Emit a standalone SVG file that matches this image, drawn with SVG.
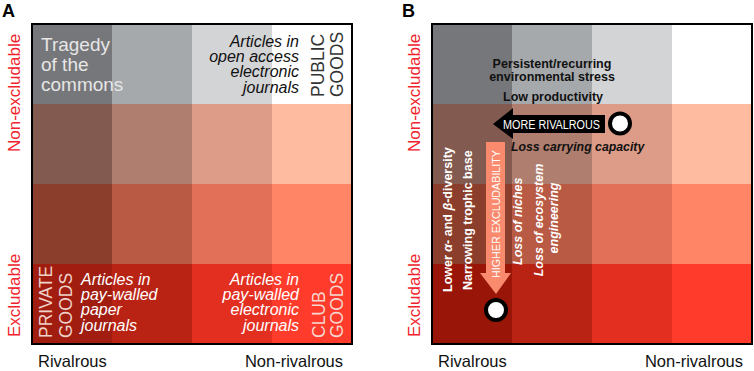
<svg xmlns="http://www.w3.org/2000/svg" width="754" height="371" viewBox="0 0 754 371">
<style>
text{font-family:"Liberation Sans",Arial,Helvetica,sans-serif}
.panel{font-weight:bold;font-size:18px;fill:#000}
.ylab{font-size:17px;fill:#f0222b}
.xlab{font-size:16.5px;fill:#111}
.big{font-size:19px;fill:#e6e6e6}
.art{font-size:16px;font-style:italic}
.goods{font-size:17.5px}
.bb{font-weight:bold;font-size:12.5px;fill:#111}
.wb{font-weight:bold;font-size:12.5px;fill:#fff}
.frame{fill:none;stroke:#000;stroke-width:2}
</style>
<defs>
<g id="grid">
<rect x="0" y="0" width="80" height="80" fill="#76777a"/>
<rect x="80" y="0" width="80" height="80" fill="#a6a9ac"/>
<rect x="160" y="0" width="80" height="80" fill="#d3d4d6"/>
<rect x="240" y="0" width="80" height="80" fill="#ffffff"/>
<rect x="0" y="80" width="80" height="80" fill="#835a50"/>
<rect x="80" y="80" width="80" height="80" fill="#b07e6e"/>
<rect x="160" y="80" width="80" height="80" fill="#dd9c87"/>
<rect x="240" y="80" width="80" height="80" fill="#ffbba0"/>
<rect x="0" y="160" width="80" height="80" fill="#8a3e2b"/>
<rect x="80" y="160" width="80" height="80" fill="#b95a45"/>
<rect x="160" y="160" width="80" height="80" fill="#e27058"/>
<rect x="240" y="160" width="80" height="80" fill="#ff8566"/>
<rect x="80" y="240" width="80" height="80" fill="#b92314"/>
<rect x="160" y="240" width="80" height="80" fill="#e22f20"/>
<rect x="240" y="240" width="80" height="80" fill="#ff3b2b"/>
</g>
</defs>

<g id="panelA">
<text class="panel" x="2" y="17">A</text>
<g id="gridA">
<use href="#grid" x="32" y="24"/>
<rect x="32" y="264" width="80" height="80" fill="#a11d10"/>
<rect class="frame" x="32" y="24" width="320" height="320"/>
</g>
<g id="tragedy">
<text class="big" x="41" y="50.5">Tragedy</text>
<text class="big" x="41" y="70.5">of the</text>
<text class="big" x="41" y="90.5">commons</text>
</g>
<g id="openAccess" class="art" fill="#111" text-anchor="end">
<text x="299" y="46.5">Articles in</text>
<text x="299" y="62">open access</text>
<text x="299" y="77.3">electronic</text>
<text x="299" y="92.7">journals</text>
</g>
<g id="publicGoods" class="goods" fill="#333">
<text transform="translate(324,97) rotate(-90)">PUBLIC</text>
<text transform="translate(343,97) rotate(-90)">GOODS</text>
</g>
<g id="privateGoods" class="goods" fill="#efd2ca">
<text transform="translate(52,338) rotate(-90)">PRIVATE</text>
<text transform="translate(72,338) rotate(-90)">GOODS</text>
</g>
<g id="paywalledPaper" class="art" fill="#fff">
<text x="81" y="284.5">Articles in</text>
<text x="81" y="300">pay-walled</text>
<text x="81" y="315.3">paper</text>
<text x="81" y="330.7">journals</text>
</g>
<g id="paywalledElectronic" class="art" fill="#fff" text-anchor="end">
<text x="299" y="284.5">Articles in</text>
<text x="299" y="300">pay-walled</text>
<text x="299" y="315.3">electronic</text>
<text x="299" y="330.7">journals</text>
</g>
<g id="clubGoods" class="goods" fill="#f6d6cf">
<text transform="translate(325,338) rotate(-90)">CLUB</text>
<text transform="translate(343,338) rotate(-90)">GOODS</text>
</g>
<g id="axesA">
<text class="ylab" transform="translate(20,152) rotate(-90)">Non-excludable</text>
<text class="ylab" transform="translate(20,337) rotate(-90)">Excludable</text>
<text class="xlab" x="38" y="367">Rivalrous</text>
<text class="xlab" x="343" y="367" text-anchor="end">Non-rivalrous</text>
</g>
</g>

<g id="panelB">
<text class="panel" x="402" y="17">B</text>
<g id="gridB">
<use href="#grid" x="432" y="24"/>
<rect x="432" y="264" width="80" height="80" fill="#981508"/>
<rect class="frame" x="432" y="24" width="320" height="320"/>
</g>
<g id="stress" class="bb" text-anchor="middle">
<text x="552" y="68.3">Persistent/recurring</text>
<text x="552" y="80.7">environmental stress</text>
<text x="553" y="100.7">Low productivity</text>
</g>
<g id="connectors">
<polygon id="moreRivalrousArrow" points="493,124 513,108 513,115 605,115 605,133 513,133 513,139" fill="#000"/>
<polygon id="higherExcludabilityArrow" points="486,142 505,142 505,273 511,273 496,294 480,273 486,273" fill="#f98a6d"/>
</g>
<text x="503" y="128.5" fill="#fff" font-size="12" textLength="97" lengthAdjust="spacingAndGlyphs">MORE RIVALROUS</text>
<text transform="translate(499.5,278) rotate(-90)" fill="#fff" font-size="11" textLength="128" lengthAdjust="spacingAndGlyphs">HIGHER EXCLUDABILITY</text>
<g id="circleTop"><circle cx="620" cy="123.5" r="10" fill="#fff" stroke="#000" stroke-width="4"/></g>
<g id="circleBottom"><circle cx="496" cy="310" r="10" fill="#fff" stroke="#000" stroke-width="4"/></g>
<text x="511" y="151" font-weight="bold" font-style="italic" font-size="12.3" fill="#111">Loss carrying capacity</text>
<g id="diversity" class="wb">
<text transform="translate(452,292) rotate(-90)">Lower <tspan font-style="italic">α</tspan>- and <tspan font-style="italic">β</tspan>-diversity</text>
<text transform="translate(472,290) rotate(-90)">Narrowing trophic base</text>
</g>
<g id="niches" class="wb" font-style="italic">
<text transform="translate(522,265) rotate(-90)">Loss of niches</text>
<text transform="translate(543,220) rotate(-90)" text-anchor="middle">Loss of ecosystem</text>
<text transform="translate(558,218) rotate(-90)" text-anchor="middle">engineering</text>
</g>
<g id="axesB">
<text class="ylab" transform="translate(420,152) rotate(-90)">Non-excludable</text>
<text class="ylab" transform="translate(420,337) rotate(-90)">Excludable</text>
<text class="xlab" x="438" y="367">Rivalrous</text>
<text class="xlab" x="743" y="367" text-anchor="end">Non-rivalrous</text>
</g>
</g>
</svg>
